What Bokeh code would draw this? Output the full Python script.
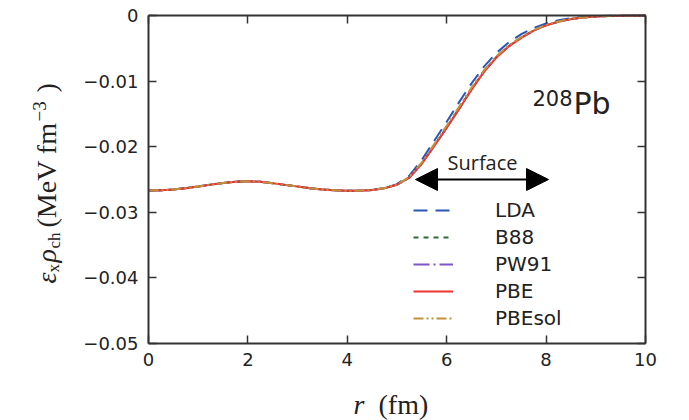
import math
from bokeh.plotting import figure
from bokeh.models import (Range1d, LinearAxis, FixedTicker, Label, Arrow, NormalHead,
                          Legend, LegendItem, ColumnDataSource, CustomJSTickFormatter)
from bokeh.embed import file_html
from bokeh.resources import INLINE

# ---------------- data ----------------
r = [0.0, 0.25, 0.5, 0.75, 1.0, 1.25, 1.5, 1.75, 2.0, 2.25, 2.5, 2.75, 3.0, 3.25,
     3.5, 3.75, 4.0, 4.25, 4.5, 4.75, 5.0, 5.25, 5.5, 5.75, 6.0, 6.25, 6.5, 6.75,
     7.0, 7.25, 7.5, 7.75, 8.0, 8.25, 8.5, 8.75, 9.0, 9.25, 9.5, 9.75, 10.0]

lda = [-0.02668, -0.02664, -0.02652, -0.02632, -0.02606, -0.02578, -0.02552, -0.02533,
       -0.02527, -0.02536, -0.02556, -0.02582, -0.02608, -0.02632, -0.02652, -0.02665,
       -0.02671, -0.02670, -0.02660, -0.02630, -0.02570, -0.02440, -0.02200, -0.01910,
       -0.01620, -0.01320, -0.01035, -0.00780, -0.00570, -0.00410, -0.00285, -0.00190,
       -0.00120, -0.00072, -0.00040, -0.00021, -0.00010, -0.00005, -0.00002, -0.00001, 0.0]

b88 = [-0.02668, -0.02664, -0.02652, -0.02632, -0.02606, -0.02578, -0.02552, -0.02533,
       -0.02527, -0.02536, -0.02556, -0.02582, -0.02608, -0.02632, -0.02652, -0.02665,
       -0.02671, -0.02670, -0.02660, -0.02632, -0.02580, -0.02468, -0.02255, -0.01982,
       -0.01705, -0.01415, -0.01120, -0.00852, -0.00633, -0.00465, -0.00336, -0.00228,
       -0.00148, -0.00094, -0.00054, -0.00030, -0.00015, -0.00008, -0.00004, -0.00002, -0.00001]

pw91 = [-0.02668, -0.02664, -0.02652, -0.02632, -0.02606, -0.02578, -0.02552, -0.02533,
        -0.02527, -0.02536, -0.02556, -0.02582, -0.02608, -0.02632, -0.02652, -0.02665,
        -0.02671, -0.02670, -0.02660, -0.02632, -0.02580, -0.02469, -0.02258, -0.01986,
        -0.01710, -0.01420, -0.01125, -0.00856, -0.00637, -0.00468, -0.00338, -0.00229,
        -0.00149, -0.00094, -0.00055, -0.00030, -0.00015, -0.00008, -0.00004, -0.00002, -0.00001]

pbe = [-0.02668, -0.02664, -0.02652, -0.02632, -0.02606, -0.02578, -0.02552, -0.02533,
       -0.02527, -0.02536, -0.02556, -0.02582, -0.02608, -0.02632, -0.02652, -0.02665,
       -0.02671, -0.02670, -0.02660, -0.02632, -0.02580, -0.02470, -0.02260, -0.01990,
       -0.01715, -0.01425, -0.01130, -0.00860, -0.00640, -0.00470, -0.00340, -0.00230,
       -0.00150, -0.00095, -0.00055, -0.00030, -0.00015, -0.00008, -0.00004, -0.00002, -0.00001]

pbesol = [-0.02668, -0.02664, -0.02652, -0.02632, -0.02606, -0.02578, -0.02552, -0.02533,
          -0.02527, -0.02536, -0.02556, -0.02582, -0.02608, -0.02632, -0.02652, -0.02665,
          -0.02671, -0.02670, -0.02660, -0.02631, -0.02577, -0.02460, -0.02240, -0.01960,
          -0.01680, -0.01390, -0.01100, -0.00835, -0.00620, -0.00455, -0.00328, -0.00222,
          -0.00144, -0.00091, -0.00053, -0.00029, -0.00014, -0.00007, -0.00004, -0.00002, -0.00001]

series_names = ["LDA", "B88", "PW91", "PBE", "PBEsol"]
series_values = [lda, b88, pw91, pbe, pbesol]
series_colors = ["#2b57b5", "#2d6a35", "#7d55c7", "#ee3333", "#c1913a"]
series_dashes = ["14 8", "5 5", "16 4 2 4", "solid", "10 3 2 3 2 3"]

x_ticks = [0, 2, 4, 6, 8, 10]
y_ticks = [-0.05, -0.04, -0.03, -0.02, -0.01, 0.0]
X0, X1 = 0, 10
Y0, Y1 = -0.05, 0.0

# ---------------- layout (pixel geometry of the axes box) ----------------
W, H = 689, 420
PL, PR, PT, PB = 148, 645, 15, 343
sx = (PR - PL) / (X1 - X0)
sy = (PB - PT) / (Y1 - Y0)
def dx(px): return X0 + (px - PL) / sx
def dy(py): return Y1 - (py - PT) / sy

p = figure(width=W, height=H,
           x_range=Range1d(dx(0), dx(W)), y_range=Range1d(dy(H), dy(0)),
           toolbar_location=None, output_backend="svg",
           x_axis_location=None, y_axis_location=None, min_border=0)
p.grid.visible = False
p.outline_line_color = None
p.background_fill_color = "white"
p.border_fill_color = "white"

ax_b = LinearAxis(fixed_location=Y0, bounds=(X0, X1), ticker=FixedTicker(ticks=x_ticks))
ax_t = LinearAxis(fixed_location=Y1, bounds=(X0, X1), ticker=FixedTicker(ticks=x_ticks))
ax_l = LinearAxis(fixed_location=X0, bounds=(Y0, Y1), ticker=FixedTicker(ticks=y_ticks))
ax_r = LinearAxis(fixed_location=X1, bounds=(Y0, Y1), ticker=FixedTicker(ticks=y_ticks))
p.add_layout(ax_b, "below")
p.add_layout(ax_t, "above")
p.add_layout(ax_l, "left")
p.add_layout(ax_r, "right")

AX = "#333333"
for ax in (ax_b, ax_t, ax_l, ax_r):
    ax.axis_line_width = 2
    ax.axis_line_color = AX
    ax.major_tick_in = 8
    ax.major_tick_out = 0
    ax.minor_tick_in = 0
    ax.minor_tick_out = 0
    ax.major_tick_line_width = 1.5
    ax.major_tick_line_color = AX
    ax.major_label_text_font = "DejaVu Sans"
    ax.major_label_text_font_size = "18px"
    ax.major_label_text_color = "#222222"

ax_b.major_label_standoff = 9
ax_l.major_label_standoff = 10
ax_l.formatter = CustomJSTickFormatter(
    code="return tick == 0 ? '0' : '\u2212' + Math.abs(tick).toFixed(2);")
for ax in (ax_t, ax_r):
    ax.formatter = CustomJSTickFormatter(code="return '';")
    ax.major_label_standoff = 0

# ---------------- curves ----------------
items = []
for name, vals, col, dash in zip(series_names, series_values, series_colors, series_dashes):
    src = ColumnDataSource(dict(x=r, y=vals))
    rend = p.line("x", "y", source=src, line_color=col, line_width=2, line_dash=dash)
    items.append(LegendItem(label=name, renderers=[rend]))

legend = Legend(items=items, location=(413, H - 330), glyph_width=40, glyph_height=20,
                label_height=20, spacing=3, label_standoff=42, padding=0, margin=0,
                border_line_color=None, background_fill_alpha=0,
                label_text_font="DejaVu Sans", label_text_font_size="20px",
                label_text_color="#222222")
p.add_layout(legend, "center")

# ---------------- annotations ----------------
head_kw = dict(size=22, fill_color="black", line_color="black")
p.add_layout(Arrow(x_start=dx(415), y_start=dy(179), x_end=dx(548), y_end=dy(179),
                   start=NormalHead(**head_kw), end=NormalHead(**head_kw),
                   line_width=2, line_color="black"))
p.add_layout(Label(x=dx(482), y=dy(175.5), text="Surface", text_align="center",
                   text_baseline="bottom",
                   text_font="Open Sans", text_font_size="20px", text_color="#222222"))

p.add_layout(Label(x=dx(572), y=dy(105), text="208", text_align="right",
                   text_baseline="bottom",
                   text_font="DejaVu Sans", text_font_size="21px", text_color="#222222"))
p.add_layout(Label(x=dx(573), y=dy(120), text="Pb", text_align="left",
                   text_baseline="bottom",
                   text_font="DejaVu Sans", text_font_size="30px", text_color="#222222"))

# axis titles composed from pieces
SERIF = "Liberation Serif"
xlab = [("r", 353, 419, "28px", "italic"),
        ("(fm)", 378, 419, "28px", "normal")]
for t, px, py, fs, st in xlab:
    p.add_layout(Label(x=dx(px), y=dy(py), text=t, text_baseline="bottom",
                       text_font=SERIF, text_font_style=st,
                       text_font_size=fs, text_color="#222222"))

A = math.pi / 2
ylab = [
    ("ε", 61, 283, "28px", "italic"),
    ("x", 62, 272, "17px", "normal"),
    ("ρ", 61, 262, "28px", "italic"),
    ("ch", 63, 248, "17px", "normal"),
    ("(MeV fm", 61, 227, "28px", "normal"),
    ("\u22123", 45, 121, "19px", "normal"),
    (")", 61, 92, "28px", "normal"),
]
for t, px, py, fs, st in ylab:
    p.add_layout(Label(x=dx(px), y=dy(py), text=t, angle=A, text_baseline="bottom",
                       text_font=SERIF, text_font_style=st,
                       text_font_size=fs, text_color="#222222"))

open("out.html", "w").write(file_html(p, INLINE))
